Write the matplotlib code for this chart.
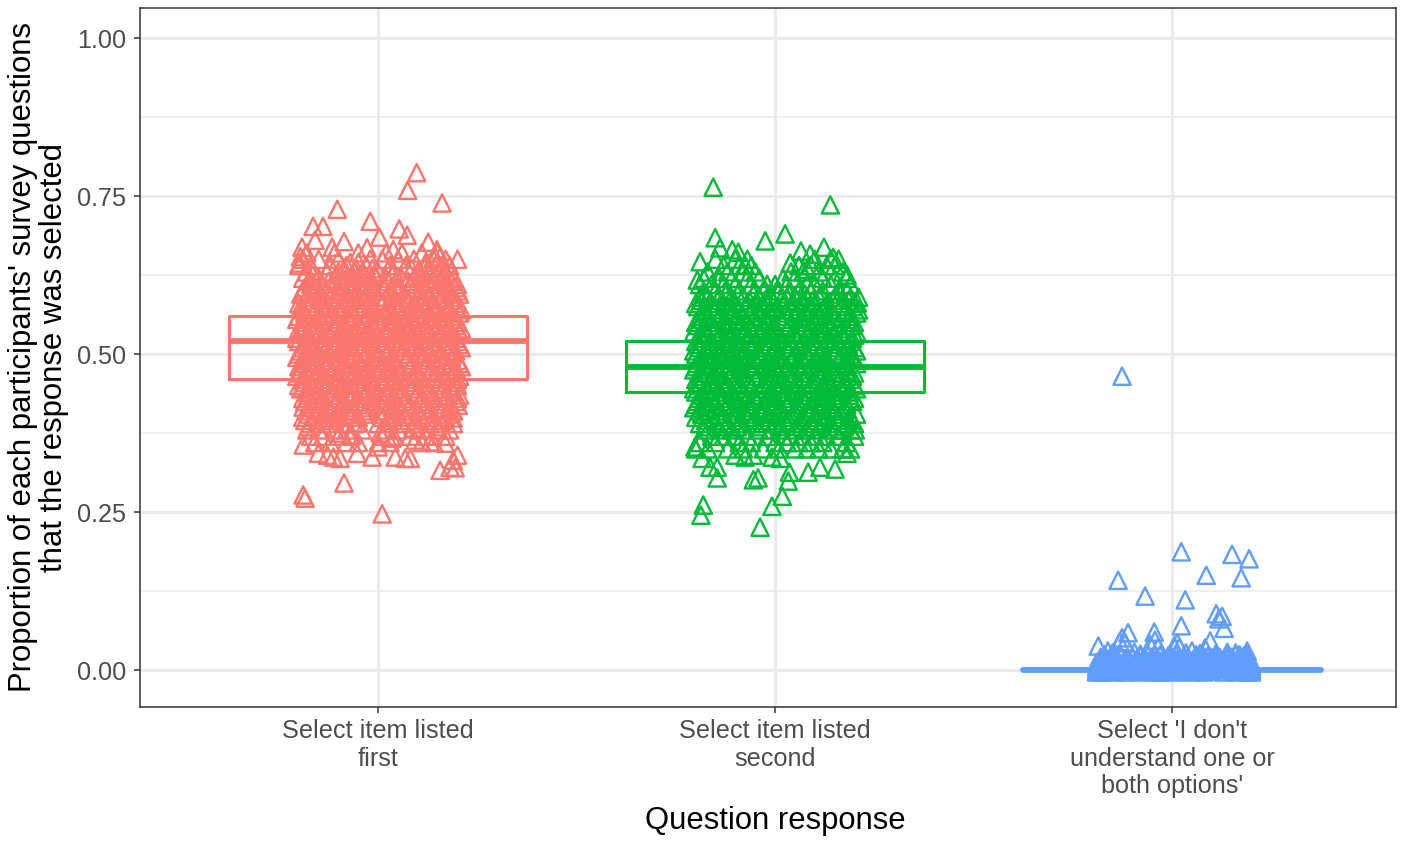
import matplotlib
matplotlib.use("Agg")
import matplotlib.pyplot as plt

plt.rcParams["font.family"] = ["Liberation Sans", "DejaVu Sans"]

positions = [1, 2, 3]
labels = ["Select item listed\nfirst", "Select item listed\nsecond",
          "Select 'I don't\nunderstand one or\nboth options'"]
colors = ["#F8766D", "#00BA38", "#619CFF"]

# q1, median, q3 per response
q1 = [0.46, 0.44, 0.0]
medians = [0.52, 0.48, 0.0]
q3 = [0.56, 0.52, 0.0]

# loose points
first_x = [1.097, 1.074, 1.161, 0.897, 0.98, 0.836, 0.861, 1.053, 1.073, 1.003, 0.914, 0.841, 1.126, 0.972,
           0.808, 1.2, 0.804, 0.802, 1.148, 1.156, 0.884, 1.038, 1.01, 0.914, 0.811, 0.816, 1.156, 1.194,
           1.181, 1.2, 1.189, 1.081, 1.068, 1.043, 0.985, 1.0, 0.947, 0.904, 0.887, 0.872, 0.849, 0.811,
           1.169, 1.131, 1.093, 1.035, 1.088, 0.824, 0.934, 0.947, 0.904, 0.811, 0.808, 1.202, 1.189, 1.149, 1.005]
first_y = [0.787, 0.759, 0.739, 0.729, 0.71, 0.702, 0.702, 0.698, 0.688, 0.685, 0.678, 0.68, 0.677, 0.668,
           0.669, 0.65, 0.654, 0.644, 0.665, 0.654, 0.669, 0.665, 0.247, 0.296, 0.277, 0.272, 0.316, 0.32,
           0.321, 0.34, 0.332, 0.335, 0.335, 0.337, 0.337, 0.353, 0.343, 0.335, 0.337, 0.34, 0.343, 0.356,
           0.359, 0.361, 0.364, 0.367, 0.383, 0.385, 0.372, 0.391, 0.375, 0.416, 0.446, 0.419, 0.399, 0.385, 0.375]

second_x = [1.844, 2.139, 2.025, 1.975, 1.849, 1.861, 1.892, 1.907, 1.811, 2.065, 2.088, 2.123, 2.038, 2.081,
            2.146, 1.924, 1.804, 2.181, 2.207, 1.962, 1.813, 1.819, 1.992, 2.018, 1.854, 1.945, 1.957, 2.033,
            2.036, 1.854, 1.836, 2.151, 2.083, 2.113, 1.816, 1.798, 2.181, 1.924, 1.945, 1.899, 1.992, 2.013, 2.202]
second_y = [0.764, 0.736, 0.69, 0.679, 0.684, 0.668, 0.665, 0.661, 0.646, 0.663, 0.658, 0.669, 0.644, 0.634,
            0.653, 0.641, 0.617, 0.625, 0.581, 0.226, 0.245, 0.261, 0.259, 0.275, 0.304, 0.301, 0.304, 0.299,
            0.313, 0.321, 0.321, 0.318, 0.313, 0.321, 0.335, 0.353, 0.343, 0.337, 0.34, 0.34, 0.337, 0.335, 0.38]

third_x = [2.874, 3.023, 3.151, 3.194, 3.086, 3.174, 2.864, 2.932, 3.033, 3.111, 3.126, 3.118, 3.023, 3.131,
           2.955, 2.889, 2.874, 2.868, 2.882, 2.814, 3.096, 3.013, 3.005, 3.018, 2.945, 2.957, 2.965, 3.083,
           3.05, 3.189, 3.139, 2.838, 2.85, 3.07, 3.16, 3.17, 2.905, 2.92, 3.035, 3.11]
third_y = [0.465, 0.187, 0.183, 0.176, 0.15, 0.146, 0.142, 0.117, 0.111, 0.089, 0.085, 0.081, 0.07, 0.066,
           0.06, 0.059, 0.051, 0.045, 0.043, 0.038, 0.046, 0.043, 0.038, 0.036, 0.04, 0.047, 0.036, 0.035,
           0.03, 0.03, 0.028, 0.03, 0.027, 0.026, 0.027, 0.024, 0.028, 0.025, 0.027, 0.025]

# dense part of each cloud, one x list per proportion
first_rows = [
    (0.66, [0.82, 0.89, 0.95, 1.02, 1.06, 1.11, 1.15]),
    (0.65, [0.81, 0.85, 0.90, 0.98, 1.01, 1.05, 1.09, 1.14, 1.17]),
    (0.64, [0.80, 0.83, 0.88, 0.92, 0.97, 1.03, 1.07, 1.12, 1.16, 1.18]),
    (0.63, [0.82, 0.87, 0.90, 0.94, 0.96, 1.00, 1.04, 1.10, 1.13, 1.15, 1.17]),
    (0.62, [0.81, 0.85, 0.89, 0.92, 0.95, 0.98, 1.02, 1.06, 1.09, 1.14, 1.16, 1.19]),
    (0.61, [0.83, 0.86, 0.91, 0.94, 0.97, 1.01, 1.04, 1.08, 1.11, 1.13, 1.17, 1.20]),
    (0.60, [0.81, 0.84, 0.87, 0.90, 0.93, 0.96, 0.99, 1.03, 1.05, 1.09, 1.12, 1.15, 1.18, 1.20]),
    (0.59, [0.82, 0.85, 0.88, 0.92, 0.94, 0.97, 1.00, 1.02, 1.07, 1.10, 1.13, 1.16, 1.19]),
    (0.58, [0.80, 0.83, 0.86, 0.89, 0.91, 0.95, 0.98, 1.01, 1.04, 1.06, 1.09, 1.11, 1.14, 1.17, 1.20]),
    (0.57, [0.81, 0.84, 0.87, 0.90, 0.93, 0.96, 0.99, 1.03, 1.05, 1.08, 1.12, 1.15, 1.18, 1.21]),
    (0.56, [0.80, 0.82, 0.85, 0.88, 0.92, 0.94, 0.97, 1.00, 1.02, 1.06, 1.10, 1.13, 1.16, 1.19]),
    (0.55, [0.81, 0.84, 0.86, 0.90, 0.93, 0.95, 0.98, 1.01, 1.04, 1.07, 1.09, 1.11, 1.14, 1.17, 1.20]),
    (0.54, [0.80, 0.83, 0.87, 0.89, 0.91, 0.96, 0.99, 1.03, 1.05, 1.08, 1.12, 1.15, 1.18, 1.21]),
    (0.53, [0.82, 0.85, 0.88, 0.92, 0.94, 0.97, 1.00, 1.02, 1.06, 1.10, 1.13, 1.16, 1.19]),
    (0.52, [0.80, 0.83, 0.86, 0.90, 0.93, 0.95, 0.98, 1.01, 1.04, 1.07, 1.09, 1.11, 1.14, 1.17, 1.20]),
    (0.51, [0.81, 0.84, 0.87, 0.89, 0.91, 0.96, 0.99, 1.03, 1.05, 1.08, 1.12, 1.15, 1.18, 1.21]),
    (0.50, [0.80, 0.82, 0.85, 0.88, 0.92, 0.94, 0.97, 1.00, 1.02, 1.06, 1.10, 1.13, 1.16, 1.19]),
    (0.49, [0.81, 0.84, 0.86, 0.90, 0.93, 0.95, 0.98, 1.01, 1.04, 1.07, 1.09, 1.11, 1.14, 1.17, 1.20]),
    (0.48, [0.80, 0.83, 0.87, 0.89, 0.91, 0.96, 0.99, 1.03, 1.05, 1.08, 1.12, 1.15, 1.18, 1.21]),
    (0.47, [0.80, 0.82, 0.85, 0.88, 0.92, 0.94, 0.97, 1.00, 1.02, 1.06, 1.10, 1.13, 1.16, 1.19]),
    (0.46, [0.81, 0.84, 0.86, 0.90, 0.93, 0.95, 0.98, 1.01, 1.04, 1.07, 1.09, 1.11, 1.14, 1.17, 1.20]),
    (0.45, [0.80, 0.83, 0.87, 0.89, 0.91, 0.96, 0.99, 1.03, 1.05, 1.08, 1.12, 1.15, 1.18, 1.20]),
    (0.44, [0.82, 0.85, 0.88, 0.92, 0.94, 0.97, 1.00, 1.02, 1.06, 1.10, 1.13, 1.16, 1.19]),
    (0.43, [0.81, 0.84, 0.86, 0.90, 0.93, 0.95, 0.98, 1.01, 1.04, 1.07, 1.11, 1.14, 1.17, 1.20]),
    (0.42, [0.83, 0.87, 0.89, 0.91, 0.96, 0.99, 1.03, 1.05, 1.08, 1.12, 1.15, 1.18]),
    (0.41, [0.82, 0.85, 0.88, 0.92, 0.94, 0.97, 1.00, 1.02, 1.06, 1.10, 1.13, 1.16, 1.19]),
    (0.40, [0.81, 0.84, 0.86, 0.90, 0.93, 0.95, 1.01, 1.04, 1.07, 1.11, 1.14, 1.17]),
    (0.39, [0.83, 0.87, 0.91, 0.94, 1.00, 1.03, 1.06, 1.09, 1.13, 1.16, 1.19]),
    (0.38, [0.82, 0.85, 0.89, 0.92, 0.96, 1.02, 1.05, 1.10, 1.15, 1.18]),
    (0.37, [0.83, 0.86, 0.90, 0.93, 1.01, 1.04, 1.08, 1.12, 1.17]),
    (0.36, [0.84, 0.88, 0.92, 0.95, 1.00, 1.03, 1.11, 1.14]),
    # in-between proportions, thick middle of the cloud
    (0.645, [0.93, 0.95, 1.12, 1.15]),
    (0.635, [0.915, 0.945, 0.985, 1.085, 1.125, 1.155]),
    (0.625, [0.835, 0.905, 0.935, 0.965, 0.99, 1.035, 1.105, 1.145, 1.165]),
    (0.615, [0.825, 0.875, 0.905, 0.935, 0.985, 1.025, 1.075, 1.125, 1.155, 1.185]),
    (0.605, [0.815, 0.845, 0.885, 0.925, 0.955, 0.985, 1.015, 1.055, 1.095, 1.135, 1.175, 1.195]),
    (0.595, [0.805, 0.835, 0.875, 0.905, 0.945, 0.975, 1.035, 1.065, 1.105, 1.145, 1.165, 1.205]),
    (0.585, [0.825, 0.855, 0.895, 0.925, 0.965, 1.005, 1.045, 1.075, 1.115, 1.155, 1.185]),
    (0.575, [0.805, 0.845, 0.875, 0.915, 0.945, 0.985, 1.025, 1.055, 1.095, 1.135, 1.165, 1.195]),
    (0.565, [0.815, 0.835, 0.865, 0.905, 0.935, 0.975, 1.015, 1.035, 1.075, 1.105, 1.145, 1.175, 1.205]),
    (0.555, [0.795, 0.825, 0.855, 0.895, 0.925, 0.965, 0.995, 1.045, 1.085, 1.125, 1.155, 1.185]),
    (0.545, [0.815, 0.845, 0.885, 0.915, 0.955, 0.985, 1.025, 1.065, 1.095, 1.135, 1.165, 1.195]),
    (0.535, [0.805, 0.835, 0.875, 0.905, 0.945, 0.975, 1.015, 1.045, 1.075, 1.115, 1.145, 1.185, 1.205]),
    (0.525, [0.795, 0.825, 0.865, 0.895, 0.925, 0.965, 1.005, 1.035, 1.085, 1.125, 1.155, 1.195]),
    (0.515, [0.815, 0.855, 0.885, 0.915, 0.945, 0.985, 1.015, 1.055, 1.095, 1.135, 1.165, 1.205]),
    (0.505, [0.805, 0.835, 0.865, 0.905, 0.935, 0.975, 1.025, 1.065, 1.105, 1.145, 1.175, 1.195]),
    (0.495, [0.795, 0.825, 0.855, 0.895, 0.925, 0.965, 0.995, 1.035, 1.075, 1.115, 1.155, 1.185]),
    (0.485, [0.815, 0.845, 0.875, 0.915, 0.955, 0.985, 1.015, 1.045, 1.085, 1.125, 1.165, 1.205]),
    (0.475, [0.805, 0.835, 0.885, 0.905, 0.945, 0.975, 1.005, 1.055, 1.095, 1.135, 1.175, 1.195]),
    (0.465, [0.795, 0.825, 0.865, 0.895, 0.935, 0.965, 1.025, 1.065, 1.105, 1.145, 1.185, 1.205]),
    (0.455, [0.815, 0.855, 0.875, 0.915, 0.945, 0.985, 1.015, 1.035, 1.075, 1.115, 1.155, 1.195]),
    (0.445, [0.805, 0.835, 0.865, 0.905, 0.955, 0.975, 1.045, 1.085, 1.125, 1.165, 1.185]),
    (0.435, [0.825, 0.845, 0.885, 0.925, 0.965, 0.995, 1.025, 1.055, 1.095, 1.135, 1.175, 1.205]),
    (0.425, [0.815, 0.855, 0.895, 0.915, 0.945, 0.985, 1.015, 1.065, 1.105, 1.145, 1.195]),
    (0.415, [0.835, 0.875, 0.905, 0.935, 0.975, 1.035, 1.075, 1.115, 1.155, 1.185]),
    (0.405, [0.825, 0.865, 0.895, 0.925, 0.965, 1.005, 1.045, 1.085, 1.125, 1.175]),
    (0.395, [0.815, 0.855, 0.885, 1.025, 1.055, 1.095, 1.145, 1.165]),
]
second_rows = [
    (0.65, [1.85, 1.90, 1.93, 2.10, 2.14, 2.16]),
    (0.64, [1.87, 1.91, 1.94, 2.06, 2.09, 2.13, 2.15]),
    (0.63, [1.83, 1.88, 1.92, 1.95, 2.04, 2.07, 2.11, 2.17]),
    (0.62, [1.82, 1.86, 1.89, 1.93, 1.96, 2.02, 2.05, 2.12, 2.15, 2.18]),
    (0.61, [1.81, 1.84, 1.87, 1.90, 1.94, 1.98, 2.00, 2.03, 2.08, 2.10, 2.14, 2.19]),
    (0.60, [1.82, 1.85, 1.88, 1.91, 1.95, 1.97, 2.01, 2.06, 2.09, 2.12, 2.16, 2.18]),
    (0.59, [1.81, 1.83, 1.86, 1.89, 1.92, 1.96, 1.99, 2.03, 2.05, 2.08, 2.11, 2.15, 2.19, 2.21]),
    (0.58, [1.80, 1.84, 1.87, 1.90, 1.93, 1.95, 1.98, 2.02, 2.07, 2.10, 2.13, 2.17, 2.20]),
    (0.57, [1.82, 1.85, 1.88, 1.91, 1.94, 1.97, 2.00, 2.04, 2.06, 2.09, 2.12, 2.14, 2.18, 2.21]),
    (0.56, [1.81, 1.83, 1.86, 1.89, 1.92, 1.96, 1.99, 2.01, 2.05, 2.08, 2.11, 2.15, 2.19]),
    (0.55, [1.80, 1.84, 1.87, 1.90, 1.93, 1.95, 1.98, 2.02, 2.04, 2.07, 2.10, 2.13, 2.16, 2.20]),
    (0.54, [1.82, 1.85, 1.88, 1.91, 1.94, 1.97, 2.00, 2.03, 2.06, 2.09, 2.12, 2.14, 2.18]),
    (0.53, [1.81, 1.83, 1.86, 1.89, 1.92, 1.96, 1.99, 2.01, 2.05, 2.08, 2.11, 2.15, 2.17, 2.20]),
    (0.52, [1.80, 1.84, 1.87, 1.90, 1.93, 1.95, 1.98, 2.02, 2.04, 2.07, 2.10, 2.13, 2.16, 2.19]),
    (0.51, [1.81, 1.85, 1.88, 1.91, 1.94, 1.97, 2.00, 2.03, 2.06, 2.09, 2.12, 2.14, 2.18, 2.20]),
    (0.50, [1.80, 1.83, 1.86, 1.89, 1.92, 1.96, 1.99, 2.01, 2.05, 2.08, 2.11, 2.15, 2.17, 2.19]),
    (0.49, [1.81, 1.84, 1.87, 1.90, 1.93, 1.95, 1.98, 2.02, 2.04, 2.07, 2.10, 2.13, 2.16, 2.20]),
    (0.48, [1.80, 1.82, 1.85, 1.88, 1.91, 1.94, 1.97, 2.00, 2.03, 2.06, 2.09, 2.12, 2.14, 2.18]),
    (0.47, [1.81, 1.83, 1.86, 1.89, 1.92, 1.96, 1.99, 2.01, 2.05, 2.08, 2.11, 2.15, 2.17, 2.20]),
    (0.46, [1.80, 1.84, 1.87, 1.90, 1.93, 1.95, 1.98, 2.02, 2.04, 2.07, 2.10, 2.13, 2.16, 2.19]),
    (0.45, [1.81, 1.85, 1.88, 1.91, 1.94, 1.97, 2.00, 2.03, 2.06, 2.09, 2.12, 2.14, 2.18, 2.20]),
    (0.44, [1.80, 1.83, 1.86, 1.89, 1.92, 1.96, 1.99, 2.01, 2.05, 2.08, 2.11, 2.15, 2.17, 2.19]),
    (0.43, [1.81, 1.84, 1.87, 1.90, 1.93, 1.95, 1.98, 2.02, 2.04, 2.07, 2.10, 2.13, 2.16, 2.20]),
    (0.42, [1.80, 1.82, 1.85, 1.88, 1.91, 1.94, 1.97, 2.00, 2.03, 2.06, 2.09, 2.12, 2.14, 2.18]),
    (0.41, [1.81, 1.83, 1.86, 1.89, 1.92, 1.96, 1.99, 2.01, 2.05, 2.08, 2.11, 2.15, 2.17]),
    (0.40, [1.80, 1.84, 1.87, 1.90, 1.93, 1.95, 1.98, 2.02, 2.04, 2.07, 2.10, 2.13, 2.16, 2.19]),
    (0.39, [1.81, 1.85, 1.88, 1.91, 1.94, 1.97, 2.00, 2.03, 2.06, 2.09, 2.12, 2.14, 2.18, 2.20]),
    (0.38, [1.82, 1.86, 1.89, 1.92, 1.96, 1.99, 2.01, 2.05, 2.08, 2.11, 2.15, 2.17, 2.19]),
    (0.37, [1.84, 1.87, 1.90, 1.93, 1.98, 2.02, 2.04, 2.07, 2.10, 2.13, 2.16, 2.20]),
    (0.36, [1.81, 1.85, 1.91, 1.94, 2.00, 2.03, 2.06, 2.09, 2.12, 2.18]),
    (0.35, [1.80, 1.83, 1.88, 1.92, 1.97, 2.01, 2.05, 2.08, 2.11, 2.14, 2.17, 2.19]),
    # in-between proportions, thick middle of the cloud
    (0.595, [1.825, 1.875, 1.905, 1.945, 1.985, 2.035, 2.075, 2.115, 2.165]),
    (0.585, [1.815, 1.855, 1.895, 1.935, 1.975, 2.015, 2.055, 2.095, 2.145, 2.185]),
    (0.575, [1.805, 1.845, 1.885, 1.925, 1.965, 2.005, 2.045, 2.085, 2.125, 2.165, 2.195]),
    (0.565, [1.825, 1.865, 1.895, 1.935, 1.985, 2.025, 2.055, 2.105, 2.145, 2.175, 2.205]),
    (0.555, [1.815, 1.855, 1.905, 1.945, 1.975, 2.015, 2.065, 2.095, 2.135, 2.185]),
    (0.545, [1.805, 1.835, 1.875, 1.915, 1.955, 1.995, 2.035, 2.075, 2.115, 2.155, 2.195]),
    (0.535, [1.795, 1.825, 1.865, 1.895, 1.925, 1.965, 2.005, 2.045, 2.085, 2.125, 2.165, 2.205]),
    (0.525, [1.815, 1.855, 1.885, 1.935, 1.975, 2.015, 2.055, 2.095, 2.135, 2.175, 2.195]),
    (0.515, [1.805, 1.835, 1.875, 1.905, 1.945, 1.985, 2.025, 2.065, 2.105, 2.145, 2.185]),
    (0.505, [1.795, 1.825, 1.865, 1.895, 1.925, 1.955, 1.995, 2.035, 2.075, 2.115, 2.155, 2.205]),
    (0.495, [1.815, 1.845, 1.885, 1.915, 1.965, 2.005, 2.045, 2.085, 2.125, 2.165, 2.195]),
    (0.485, [1.805, 1.835, 1.875, 1.905, 1.935, 1.975, 2.015, 2.055, 2.095, 2.135, 2.175, 2.205]),
    (0.475, [1.795, 1.825, 1.855, 1.895, 1.945, 1.985, 2.025, 2.065, 2.105, 2.145, 2.185]),
    (0.465, [1.815, 1.845, 1.885, 1.925, 1.955, 1.995, 2.035, 2.075, 2.115, 2.155, 2.195]),
    (0.455, [1.805, 1.835, 1.865, 1.905, 1.935, 1.975, 2.015, 2.055, 2.095, 2.135, 2.175]),
    (0.445, [1.795, 1.825, 1.875, 1.915, 1.965, 2.005, 2.045, 2.085, 2.125, 2.165, 2.205]),
    (0.435, [1.815, 1.855, 1.895, 1.945, 1.985, 2.025, 2.065, 2.105, 2.145, 2.185]),
    (0.425, [1.805, 1.845, 1.885, 1.925, 1.955, 1.995, 2.035, 2.075, 2.115, 2.155, 2.195]),
    (0.415, [1.795, 1.835, 1.875, 1.905, 1.935, 1.975, 2.015, 2.055, 2.095, 2.135, 2.175]),
    (0.405, [1.815, 1.855, 1.895, 1.925, 1.965, 2.005, 2.045, 2.085, 2.125, 2.165, 2.205]),
    (0.395, [1.825, 1.865, 1.915, 1.945, 1.985, 2.035, 2.065, 2.105, 2.155, 2.185]),
    (0.385, [1.835, 1.875, 1.905, 1.955, 2.015, 2.055, 2.095, 2.135, 2.175]),
]
third_rows = [
    (0.024, [2.83, 2.87, 2.94, 2.97, 3.01, 3.06, 3.11, 3.16, 3.19]),
    (0.022, [2.85, 2.92, 2.99, 3.03, 3.09, 3.14, 3.18]),
    (0.020, [2.82, 2.86, 2.90, 2.95, 3.00, 3.04, 3.08, 3.12, 3.15, 3.18]),
    (0.018, [2.82, 2.85, 2.89, 2.93, 2.98, 3.02, 3.07, 3.10, 3.14, 3.17, 3.19]),
    (0.016, [2.84, 2.88, 2.91, 2.96, 3.00, 3.03, 3.06, 3.11, 3.13, 3.18]),
    (0.014, [2.83, 2.86, 2.91, 2.94, 2.97, 3.01, 3.05, 3.09, 3.13, 3.16, 3.19]),
    (0.012, [2.81, 2.85, 2.88, 2.92, 2.96, 2.99, 3.04, 3.07, 3.12, 3.15, 3.18, 3.20]),
    (0.010, [2.83, 2.87, 2.90, 2.93, 2.98, 3.01, 3.05, 3.08, 3.10, 3.14, 3.16]),
    (0.008, [2.82, 2.84, 2.87, 2.90, 2.95, 2.98, 3.03, 3.06, 3.11, 3.13, 3.17, 3.19]),
    (0.006, [2.81, 2.83, 2.86, 2.89, 2.93, 2.96, 3.00, 3.05, 3.08, 3.12, 3.16, 3.20]),
    (0.004, [2.82, 2.85, 2.88, 2.92, 2.95, 2.99, 3.02, 3.06, 3.09, 3.11, 3.15, 3.18]),
    (0.002, [2.81, 2.84, 2.88, 2.91, 2.94, 2.97, 3.02, 3.04, 3.09, 3.14, 3.18, 3.20]),
    (0.000, [2.81, 2.85, 2.87, 2.91, 2.95, 2.99, 3.03, 3.07, 3.10, 3.15, 3.18, 3.20]),
    (-0.003, [2.81, 2.82, 2.85, 2.88, 2.92, 2.96, 2.97, 3.01, 3.05, 3.08, 3.13, 3.16, 3.19, 3.20]),
]

all_x = [first_x, second_x, third_x]
all_y = [first_y, second_y, third_y]
all_rows = [first_rows, second_rows, third_rows]

fig = plt.figure(figsize=(14.18, 8.42), dpi=100)
ax = fig.add_axes([140 / 1418, 1 - 707 / 842, 1256 / 1418, 699 / 842])

# grid
ax.set_axisbelow(True)
ax.set_yticks([0, 0.25, 0.5, 0.75, 1.0])
ax.set_yticklabels(["0.00", "0.25", "0.50", "0.75", "1.00"])
ax.set_yticks([0.125, 0.375, 0.625, 0.875], minor=True)
ax.set_xticks(positions)
ax.set_xticklabels(labels)
ax.grid(True, which="major", color="#ebebeb", lw=2.2)
ax.grid(True, which="minor", axis="y", color="#ebebeb", lw=1.1)
ax.tick_params(axis="y", which="minor", length=0)
ax.tick_params(axis="both", which="major", labelsize=18.2, labelcolor="#4d4d4d", color="#333333",
               length=4.5, width=1.1, pad=4)
ax.tick_params(axis="y", which="major", pad=5.5)

for i in range(3):
    stats = [{"med": medians[i], "q1": q1[i], "q3": q3[i], "whislo": q1[i], "whishi": q3[i], "fliers": []}]
    ax.bxp(stats, positions=[positions[i]], widths=0.75, showcaps=False, showfliers=False,
           boxprops={"color": colors[i], "lw": 2.2},
           whiskerprops={"color": colors[i], "lw": 2.2},
           medianprops={"color": colors[i], "lw": 4.2, "solid_capstyle": "round" if i == 2 else "butt"},
           manage_ticks=False)

    xs = list(all_x[i])
    ys = list(all_y[i])
    for y, row in all_rows[i]:
        xs += row
        ys += [y] * len(row)
    ax.scatter(xs, ys, marker="^", s=155, facecolors="none", edgecolors=colors[i], linewidths=1.7, zorder=3)

ax.set_xlim(0.4, 3.564)
ax.set_ylim(-0.0585, 1.0475)
for spine in ax.spines.values():
    spine.set_color("#333333")
    spine.set_linewidth(1.1)

ax.set_xlabel("Question response", fontsize=22.3)
ax.xaxis.set_label_coords(635 / 1256, -99 / 699)
ax.set_ylabel("Proportion of each participants' survey questions\nthat the response was selected",
              fontsize=22.4, labelpad=5.5, linespacing=1.05)

fig.savefig("out.png", dpi=100)
